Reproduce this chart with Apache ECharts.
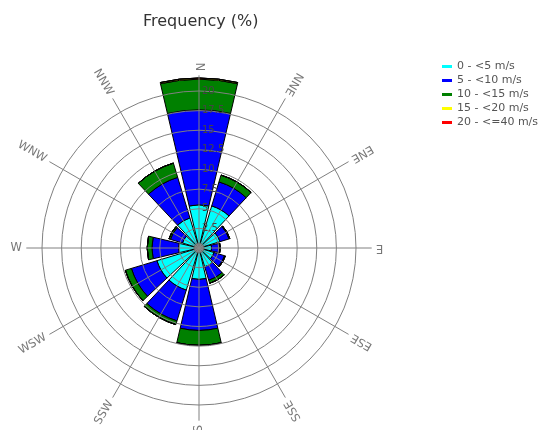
<!DOCTYPE html>
<html><head><meta charset="utf-8">
<script src="https://cdn.jsdelivr.net/npm/echarts@6/dist/echarts.min.js"></script>
<style>html,body{margin:0;padding:0;background:#fff}#c{width:549px;height:430px}</style>
</head><body><div id="c"></div>
<script>
// ---- data ----
const sectorAngles = [0, 30, 60, 90, 120, 150, 180, 210, 240, 270, 300, 330];
const compassLabels = ['N', 'NNE', 'ENE', 'E', 'ESE', 'SSE', 'S', 'SSW', 'WSW', 'W', 'WNW', 'NNW'];
const speedBins = ['0 - <5 m/s', '5 - <10 m/s', '10 - <15 m/s', '15 - <20 m/s', '20 - <=40 m/s'];
const freq_0_5   = [5.5, 5.6, 2.8, 1.6, 2.0, 2.5, 4.0, 5.6, 5.6, 2.6, 2.2, 4.0];
const freq_5_10  = [12.1, 3.2, 1.2, 1.0, 1.4, 1.8, 6.5, 4.1, 3.4, 3.4, 1.6, 5.4];
const freq_10_15 = [3.9, 0.9, 0.1, 0.1, 0.1, 0.4, 1.9, 0.5, 0.8, 0.6, 0.2, 1.9];
const freq_15_20 = [0.15, 0, 0, 0, 0, 0, 0, 0, 0, 0, 0, 0];
const freq_20_40 = [0, 0, 0, 0, 0, 0, 0, 0, 0, 0, 0, 0];
const ringMax = 20, ringStep = 2.5;

// ---- styling / layout ----
const seriesData = [freq_0_5, freq_5_10, freq_10_15, freq_15_20, freq_20_40];
const colors = ['#00FFFF', '#0000FF', '#008000', '#FFFF00', '#FF0000'];
const center = [199, 248];
const ringRadius = 157;
const outerMax = 22;
const spokeRadius = ringRadius * outerMax / ringMax;
const labelR = 22.55;
const font = 'DejaVu Sans';

const chart = echarts.init(document.getElementById('c'));
const option = {
  animation: false,
  backgroundColor: '#fff',
  title: {
    text: 'Frequency (%)', left: 138, top: 9,
    textStyle: { fontFamily: font, fontSize: 16, fontWeight: 'normal', color: '#333' }
  },
  legend: {
    orient: 'vertical', left: 437, top: 56, itemWidth: 10, itemHeight: 3, itemGap: 3,
    icon: 'rect', itemStyle: { borderWidth: 0 },
    textStyle: { fontFamily: font, fontSize: 11, color: '#555' },
    data: speedBins
  },
  polar: [
    { center: center, radius: ringRadius },
    { center: center, radius: spokeRadius },
    { center: center, radius: spokeRadius }
  ],
  angleAxis: [
    { polarIndex: 0, type: 'value', min: 0, max: 360, startAngle: 90, show: false },
    { polarIndex: 1, type: 'value', min: 0, max: 360, interval: 30, startAngle: 90, z: 10,
      axisLine: { show: false }, axisTick: { show: false }, axisLabel: { show: false },
      splitLine: { show: true, lineStyle: { color: '#808080', width: 1 } } },
    { polarIndex: 2, type: 'category', data: sectorAngles.map(String), startAngle: 105,
      boundaryGap: true, show: false }
  ],
  radiusAxis: [
    { polarIndex: 0, type: 'value', min: 0, max: ringMax, interval: ringStep, z: 10,
      axisLine: { show: false }, axisTick: { show: false },
      axisLabel: { show: true, fontFamily: font, fontSize: 10, color: '#444',
        margin: -3, align: 'left', verticalAlign: 'middle',
        formatter: v => v === 0 ? '' : String(v) },
      splitLine: { show: true, lineStyle: { color: '#808080', width: 1 } } },
    { polarIndex: 1, type: 'value', min: 0, max: outerMax, show: false },
    { polarIndex: 2, type: 'value', min: 0, max: outerMax, show: false }
  ],
  series: [
    ...speedBins.map((name, i) => ({
      type: 'bar', coordinateSystem: 'polar', polarIndex: 2, name: name, stack: 'wind',
      data: seriesData[i], barCategoryGap: '12%', z: 2,
      itemStyle: { color: colors[i], borderColor: '#000', borderWidth: 1 },
      emphasis: { disabled: true }
    })),
    {
      type: 'scatter', coordinateSystem: 'polar', polarIndex: 1, clip: false, silent: true,
      symbolSize: 1, itemStyle: { color: 'rgba(0,0,0,0)' }, z: 12,
      data: compassLabels.map((t, i) => ({
        value: [labelR, sectorAngles[i]],
        label: { rotate: -(sectorAngles[i] + 90) }
      })),
      label: { show: true, position: 'inside', align: 'right', verticalAlign: 'middle',
        formatter: p => compassLabels[p.dataIndex],
        fontFamily: font, fontSize: 11.5, color: '#555' }
    },
    {
      type: 'scatter', coordinateSystem: 'polar', polarIndex: 1, silent: true, z: 20,
      symbolSize: 10, itemStyle: { color: '#8a8a8a', borderColor: '#666', borderWidth: 1 },
      data: [[0, 0]]
    }
  ]
};
chart.setOption(option);
</script>
</body></html>
